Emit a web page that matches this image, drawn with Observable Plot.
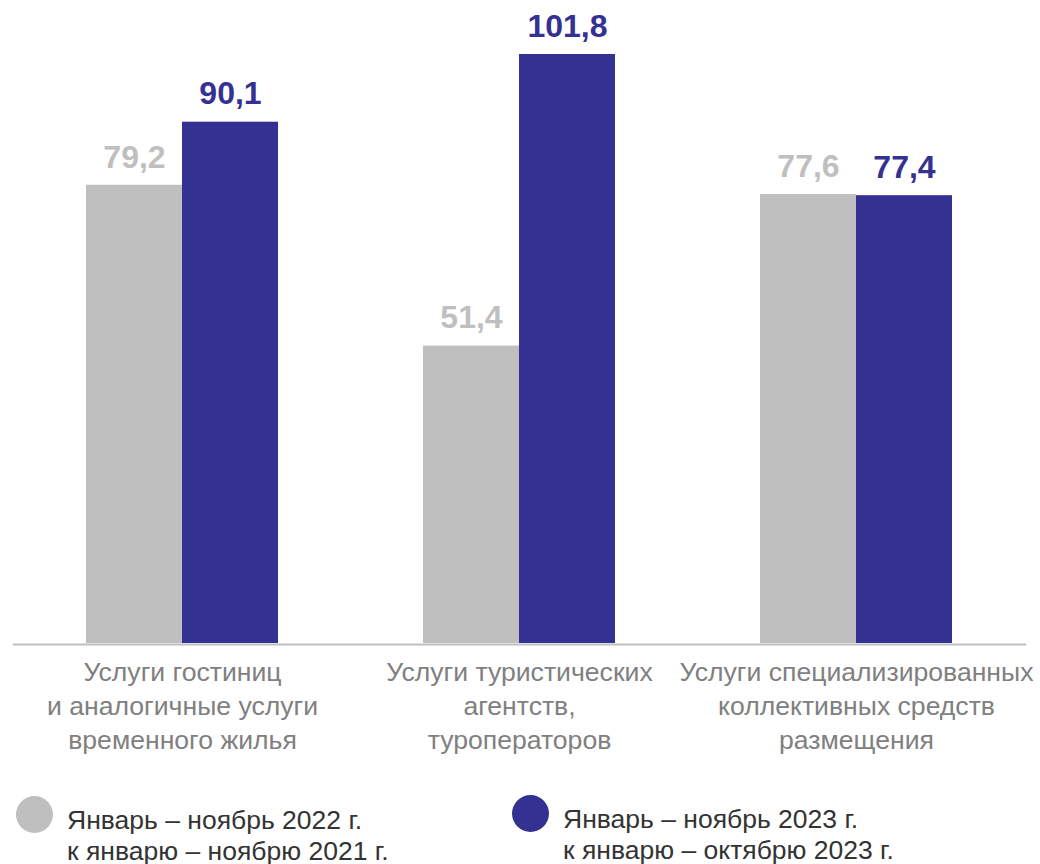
<!DOCTYPE html>
<html>
<head>
<meta charset="utf-8">
<script src="https://cdn.jsdelivr.net/npm/d3@7"></script>
<script src="https://cdn.jsdelivr.net/npm/@observablehq/plot@0.6"></script>
<style>
  body { margin: 0; background: #fff; font-family: "Liberation Sans", Arial, sans-serif; }
  #wrap { position: relative; width: 1040px; height: 864px; }
  .leg { position: absolute; display: flex; align-items: flex-start; }
  .leg .dot { width: 37px; height: 37px; border-radius: 50%; flex: none; }
  .leg .txt { font-size: 26.5px; line-height: 31px; color: #333; white-space: nowrap; }
</style>
</head>
<body>
<div id="wrap"></div>
<script>
const categories = [
  "Услуги гостиниц\nи аналогичные услуги\nвременного жилья",
  "Услуги туристических\nагентств,\nтуроператоров",
  "Услуги специализированных\nколлективных средств\nразмещения"
];
const seriesNames = [
  "Январь – ноябрь 2022 г.\nк январю – ноябрю 2021 г.",
  "Январь – ноябрь 2023 г.\nк январю – октябрю 2023 г."
];
const values2022 = [79.2, 51.4, 77.6];
const values2023 = [90.1, 101.8, 77.4];
const colors = ["#bfbfbf", "#353192"];

const data = [];
categories.forEach((c, i) => {
  data.push({category: c, series: seriesNames[0], value: values2022[i]});
  data.push({category: c, series: seriesNames[1], value: values2023[i]});
});
const fmt = v => v.toFixed(1).replace(".", ",");

const W = 1040, ML = 12, MR = 15;
const padInner = 0.431, padOuter = 0.2155;
const outerGap = padOuter * (W - ML - MR) / categories.length;

const chart = Plot.plot({
  width: W,
  height: 770,
  marginLeft: ML,
  marginRight: MR,
  marginTop: 54,
  marginBottom: 127,
  style: {fontFamily: "'Liberation Sans', Arial, sans-serif", background: "#fff"},
  fx: {domain: categories, paddingInner: padInner, paddingOuter: padOuter, axis: null, label: null},
  x: {domain: seriesNames, padding: 0, axis: null, label: null},
  y: {domain: [0, 101.8], axis: null, label: null},
  color: {domain: seriesNames, range: colors},
  marks: [
    Plot.barY(data, {fx: "category", x: "series", y: "value", fill: "series"}),
    Plot.text(data, {
      fx: "category", x: "series", y: "value", text: d => fmt(d.value),
      fill: "series", fontSize: 32, fontWeight: "bold", dy: -28
    }),
    Plot.frame({anchor: "bottom", facet: "super", stroke: "#bfbfbf", strokeWidth: 2, dy: 1,
      insetLeft: -outerGap, insetRight: -outerGap}),
    Plot.text(categories, {
      fx: d => d, text: d => d, frameAnchor: "bottom", lineAnchor: "top",
      dy: 13, fontSize: 26.6, lineHeight: 1.29, fill: "#808080"
    })
  ]
});
const wrap = document.getElementById("wrap");
wrap.appendChild(chart);

const legPos = [{left: 16, top: 796, textLeft: 67}, {left: 512, top: 795, textLeft: 563}];
seriesNames.forEach((s, i) => {
  const item = document.createElement("div");
  item.className = "leg";
  item.style.left = legPos[i].left + "px";
  item.style.top = legPos[i].top + "px";
  const dot = document.createElement("div");
  dot.className = "dot";
  dot.style.background = colors[i];
  const txt = document.createElement("div");
  txt.className = "txt";
  txt.style.marginLeft = (legPos[i].textLeft - legPos[i].left - 37) + "px";
  txt.style.marginTop = "9px";
  txt.innerHTML = s.split("\n").join("<br>");
  item.appendChild(dot);
  item.appendChild(txt);
  wrap.appendChild(item);
});
</script>
</body>
</html>
